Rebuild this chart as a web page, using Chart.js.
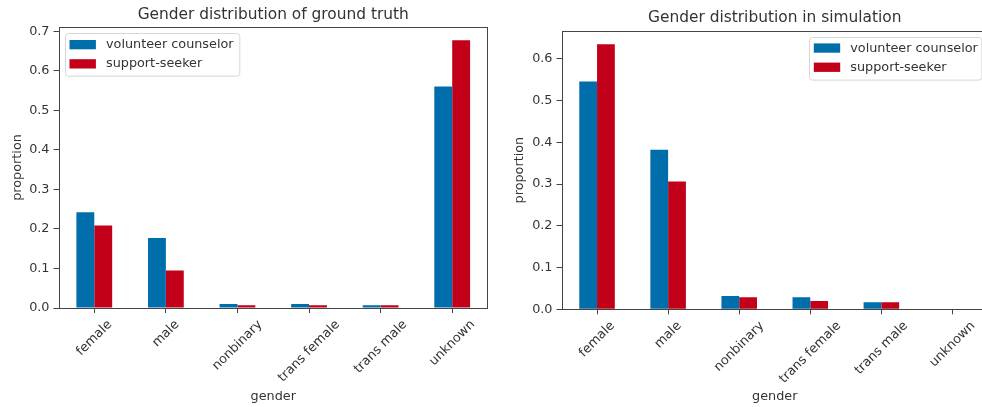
<!DOCTYPE html>
<html>
<head>
<meta charset="utf-8">
<title>Gender distribution</title>
<script src="https://cdn.jsdelivr.net/npm/chart.js@4.4.1/dist/chart.umd.min.js"></script>
<style>
    html, body { margin: 0; padding: 0; background: #fff; overflow: hidden; width: 982px; height: 407px; }
    .panel { position: absolute; top: 0; }
</style>
</head>
<body>
<div class="panel" style="left:0px"><canvas id="truth" width="495" height="407"></canvas></div>
<div class="panel" style="left:490px"><canvas id="sim" width="498" height="407"></canvas></div>
<script>
    "use strict";

    // data
    var categories = ["female", "male", "nonbinary", "trans female", "trans male", "unknown"];
    var seriesNames = ["volunteer counselor", "support-seeker"];
    var truthCounselor = [0.242, 0.177, 0.010, 0.010, 0.007, 0.560];
    var truthSeeker = [0.209, 0.095, 0.007, 0.007, 0.007, 0.677];
    var simCounselor = [0.546, 0.382, 0.032, 0.029, 0.017, 0];
    var simSeeker = [0.635, 0.306, 0.029, 0.020, 0.017, 0];

    var FONT = "'DejaVu Sans', sans-serif";
    var TEXT = "#333333";
    var AXIS = "#444444";
    var BLUE = "#006EAB";
    var RED = "#C2001A";

    // frame (spines), rotated x labels and legend box
    var framePlugin = {
        id: 'frame',
        afterDraw: function (chart, args, opts) {
            var ctx = chart.ctx;
            var a = chart.chartArea;
            var xs = chart.scales.x;
            ctx.save();

            ctx.strokeStyle = AXIS;
            ctx.lineWidth = 1;
            var l = Math.round(a.left) + 0.5, t = Math.round(a.top) + 0.5;
            var r = Math.round(a.right) - 0.5, b = Math.round(a.bottom) + 0.5;
            ctx.strokeRect(l, t, r - l, b - t);

            // x tick labels, rotated 45deg, box centred under the tick
            ctx.font = "12.8px " + FONT;
            ctx.fillStyle = TEXT;
            ctx.textAlign = 'center';
            ctx.textBaseline = 'middle';
            categories.forEach(function (c, i) {
                var px = xs.getPixelForTick(i);
                var w = ctx.measureText(c).width;
                var half = (w + 10) * Math.SQRT1_2 / 2;
                ctx.save();
                ctx.translate(px, a.bottom + 11 + half);
                ctx.rotate(-Math.PI / 4);
                ctx.fillText(c, 0, 0);
                ctx.restore();
            });

            // legend
            var lg = opts.legend;
            ctx.fillStyle = 'rgba(255,255,255,0.8)';
            ctx.strokeStyle = '#d6d6d6';
            ctx.beginPath();
            ctx.roundRect(Math.round(lg.x) + 0.5, Math.round(lg.y) + 0.5, lg.w, lg.h, 3);
            ctx.fill();
            ctx.stroke();
            ctx.textAlign = 'left';
            chart.data.datasets.forEach(function (ds, i) {
                var ry = lg.y + 6.7 + i * 19.2;
                ctx.fillStyle = ds.backgroundColor;
                ctx.fillRect(lg.x + 4.5, ry, 26.4, 9.3);
                ctx.fillStyle = TEXT;
                ctx.fillText(ds.label, lg.x + 41, ry + 4.8);
            });

            ctx.restore();
        }
    };

    function genderChart(id, title, counselor, seeker, box) {
        var ymax = Math.max.apply(null, counselor.concat(seeker)) * 1.05;
        var tickFont = {family: FONT, size: 12.8};
        return new Chart(document.getElementById(id), {
            type: 'bar',
            data: {
                labels: categories,
                datasets: [{
                    label: seriesNames[0],
                    data: counselor,
                    backgroundColor: BLUE,
                    categoryPercentage: 0.5,
                    barPercentage: 1.0
                }, {
                    label: seriesNames[1],
                    data: seeker,
                    backgroundColor: RED,
                    categoryPercentage: 0.5,
                    barPercentage: 1.0
                }]
            },
            plugins: [framePlugin],
            options: {
                responsive: false,
                animation: false,
                devicePixelRatio: 1,
                layout: {padding: {top: 0, left: 0, right: box.right, bottom: 0}},
                plugins: {
                    legend: {display: false},
                    tooltip: {enabled: false},
                    title: {
                        display: true,
                        text: title,
                        fullSize: false,
                        color: TEXT,
                        font: {family: FONT, size: 15.4, weight: 'normal', lineHeight: 1.2},
                        padding: {top: box.titleTop, bottom: box.titleBottom}
                    },
                    frame: {legend: box.legend}
                },
                scales: {
                    x: {
                        grid: {offset: false, drawOnChartArea: false, drawTicks: true, tickLength: 5, color: AXIS},
                        border: {display: false},
                        ticks: {display: false},
                        title: {display: true, text: 'gender', color: TEXT, font: tickFont, padding: {top: 0, bottom: 2.3}},
                        afterFit: function (s) { s.height = box.xHeight; }
                    },
                    y: {
                        min: 0,
                        max: ymax,
                        grid: {drawOnChartArea: false, drawTicks: true, tickLength: 5, color: AXIS},
                        border: {display: false},
                        ticks: {
                            stepSize: 0.1,
                            includeBounds: false,
                            color: TEXT,
                            font: tickFont,
                            padding: 4,
                            callback: function (v) { return v.toFixed(1); }
                        },
                        title: {display: true, text: 'proportion', color: TEXT, font: tickFont, padding: {top: box.yTitlePad, bottom: 0}},
                        afterFit: function (s) { s.width = box.yWidth; }
                    }
                }
            }
        });
    }

    genderChart('truth', 'Gender distribution of ground truth', truthCounselor, truthSeeker, {
        right: 7, titleTop: 5.8, titleBottom: 2.7, xHeight: 99, yWidth: 58.5, yTitlePad: 10.3,
        legend: {x: 65, y: 33.3, w: 174.3, h: 42.7}
    });

    genderChart('sim', 'Gender distribution in simulation', simCounselor, simSeeker, {
        right: 0, titleTop: 8.8, titleBottom: 3.7, xHeight: 97.7, yWidth: 71.5, yTitlePad: 22.3,
        legend: {x: 319.3, y: 36.7, w: 172.4, h: 42.6}
    });
</script>
</body>
</html>
